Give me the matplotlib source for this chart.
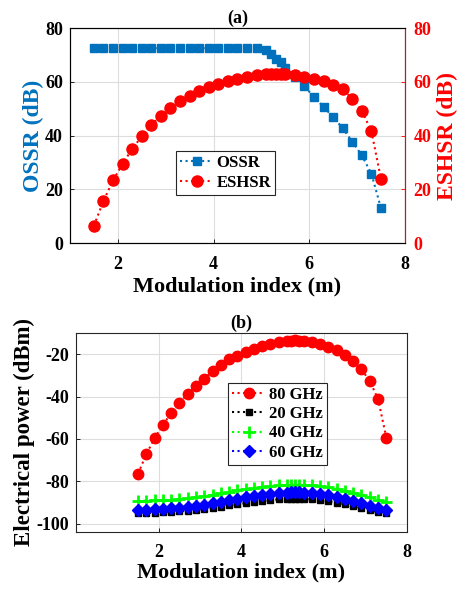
import matplotlib
matplotlib.use("Agg")
import matplotlib.pyplot as plt

plt.rcParams['font.family'] = ['Liberation Serif', 'DejaVu Serif']
plt.rcParams['font.weight'] = 'bold'
plt.rcParams['axes.unicode_minus'] = False

# modulation index samples (denser near the peak)
m_index = [1.5, 1.7, 1.9, 2.1, 2.3, 2.5, 2.7, 2.9, 3.1, 3.3, 3.5, 3.7, 3.9,
           4.1, 4.3, 4.5, 4.7, 4.9, 5.1, 5.2, 5.3, 5.4, 5.5, 5.7, 5.9, 6.1,
           6.3, 6.5, 6.7, 6.9, 7.1, 7.3, 7.5]

ossr = [72.5] * 18 + [71.8, 70.3, 68.4, 67.5, 65.0, 61.9, 58.4, 54.2, 50.7,
                      46.8, 42.7, 37.7, 32.6, 25.7, 12.9]
eshsr = [6.4, 15.7, 23.3, 29.5, 35.0, 39.7, 43.9, 47.4, 50.4, 52.8, 54.8,
         56.7, 57.9, 59.3, 60.4, 61.1, 61.9, 62.4, 62.7, 62.8, 62.9, 62.9,
         62.8, 62.4, 61.8, 61.1, 60.3, 58.9, 57.2, 53.7, 49.2, 41.5, 23.7]

p80 = [-76.5, -67.2, -59.7, -53.4, -47.9, -43.2, -38.8, -34.9, -31.5, -28.0,
       -25.2, -22.5, -20.8, -19.1, -17.5, -16.1, -15.0, -14.2, -13.8, -13.6,
       -13.5, -13.6, -13.7, -14.3, -15.3, -16.6, -18.1, -20.3, -23.3, -27.2,
       -32.7, -41.2, -59.4]
p20 = [-95.0, -94.9, -94.9, -94.8, -94.6, -94.3, -94.0, -93.6, -93.1, -92.6,
       -92.0, -91.4, -90.8, -90.3, -89.8, -89.3, -88.9, -88.6, -88.4, -88.3,
       -88.3, -88.3, -88.4, -88.6, -89.0, -89.5, -90.1, -90.9, -91.8, -92.8,
       -93.8, -94.6, -95.2]
p40 = [-89.3, -89.2, -89.1, -89.0, -88.7, -88.4, -88.0, -87.5, -87.0, -86.4,
       -85.8, -85.1, -84.4, -83.8, -83.2, -82.7, -82.3, -82.0, -81.8, -81.7,
       -81.7, -81.7, -81.8, -82.0, -82.4, -82.9, -83.6, -84.5, -85.5, -86.6,
       -87.7, -88.8, -89.8]
p60 = [-93.5, -93.4, -93.3, -93.2, -92.9, -92.6, -92.2, -91.7, -91.1, -90.5,
       -89.8, -89.1, -88.4, -87.7, -87.1, -86.5, -86.0, -85.7, -85.4, -85.3,
       -85.2, -85.3, -85.4, -85.6, -86.0, -86.6, -87.3, -88.2, -89.2, -90.3,
       -91.5, -92.6, -93.6]

BLUE = '#0072BD'
RED = '#FF0000'
TICK_FS = 13
XLABEL_FS = 16

fig = plt.figure(figsize=(4.65, 5.92), dpi=100)


def style_axes(ax):
    ax.grid(True, color='#DDDDDD', linewidth=0.8)
    ax.set_axisbelow(True)
    ax.tick_params(direction='in', length=3, labelsize=TICK_FS, width=0.6)
    ax.tick_params(axis='x', pad=9)
    ax.tick_params(axis='y', pad=5)
    for lab in ax.get_xticklabels() + ax.get_yticklabels():
        lab.set_fontweight('bold')
    for sp in ax.spines.values():
        sp.set_linewidth(0.8)
        sp.set_color('#262626')


def style_legend(leg):
    leg.get_frame().set_linewidth(0.8)
    for t in leg.get_texts():
        t.set_fontweight('bold')


# ---- panel (a) ----
ax1 = fig.add_axes([0.1505, 0.5895, 0.7204, 0.3632])
l1, = ax1.plot(m_index, ossr, linestyle=':', color=BLUE, marker='s',
               markersize=6, linewidth=1.5, label='OSSR')
ax1.set_xlim(1, 8)
ax1.set_ylim(0, 80)
ax1.set_xticks([2, 4, 6, 8])
ax1.set_yticks([0, 20, 40, 60, 80])
style_axes(ax1)
ax1.set_xlabel('Modulation index (m)', fontsize=XLABEL_FS, fontweight='bold',
               labelpad=3)
ax1.set_ylabel('OSSR (dB)', fontsize=17, fontweight='bold',
               color=BLUE, labelpad=1)
ax1.set_title('(a)', fontsize=13, fontweight='bold', pad=4)

ax2 = ax1.twinx()
l2, = ax2.plot(m_index, eshsr, linestyle=':', color=RED, marker='o',
               markersize=8, linewidth=1.5, label='ESHSR')
ax2.set_ylim(0, 80)
ax2.set_yticks([0, 20, 40, 60, 80])
ax2.tick_params(direction='in', length=3, labelsize=TICK_FS, colors=RED,
                width=0.6, pad=6)
for lab in ax2.get_yticklabels():
    lab.set_fontweight('bold')
ax2.spines['right'].set_color(RED)
ax2.set_ylabel('ESHSR (dB)', fontsize=17, fontweight='bold',
               color=RED, labelpad=4)

leg = ax1.legend([l1, l2], ['OSSR', 'ESHSR'], loc='lower left',
                 bbox_to_anchor=(0.316, 0.223), fontsize=12, fancybox=False,
                 edgecolor='#262626', framealpha=1, handlelength=2.0,
                 borderpad=0.25, labelspacing=0.25, handletextpad=0.2,
                 borderaxespad=0)
style_legend(leg)

# ---- panel (b) ----
ax3 = fig.add_axes([0.1634, 0.1014, 0.7119, 0.3361])
h80, = ax3.plot(m_index, p80, linestyle=':', color=RED, marker='o',
                markersize=7.5, linewidth=1.5)
h20, = ax3.plot(m_index, p20, linestyle=':', color='black', marker='s',
                markersize=5, linewidth=1.5)
h40, = ax3.plot(m_index, p40, linestyle=':', color='#00FF00', marker='+',
                markersize=8, markeredgewidth=2, linewidth=1.5)
h60, = ax3.plot(m_index, p60, linestyle=':', color='blue', marker='D',
                markersize=6.5, linewidth=1.5)
ax3.set_xlim(0, 8)
ax3.set_ylim(-104, -10)
ax3.set_xticks([2, 4, 6, 8])
ax3.set_yticks([-100, -80, -60, -40, -20])
style_axes(ax3)
ax3.set_xlabel('Modulation index (m)', fontsize=XLABEL_FS, fontweight='bold',
               labelpad=1)
ax3.set_ylabel('Electrical power (dBm)', fontsize=16.5,
               fontweight='bold', labelpad=1)
ax3.set_title('(b)', fontsize=13, fontweight='bold', pad=4)

leg2 = ax3.legend([h80, h20, h40, h60], ['80 GHz', '20 GHz', '40 GHz', '60 GHz'],
                  loc='lower left', bbox_to_anchor=(0.459, 0.337), fontsize=12,
                  fancybox=False, edgecolor='#262626', framealpha=1,
                  handlelength=2.0, borderpad=0.25, labelspacing=0.2,
                  handletextpad=0.2, borderaxespad=0)
style_legend(leg2)

fig.savefig('out.png', dpi=100)
